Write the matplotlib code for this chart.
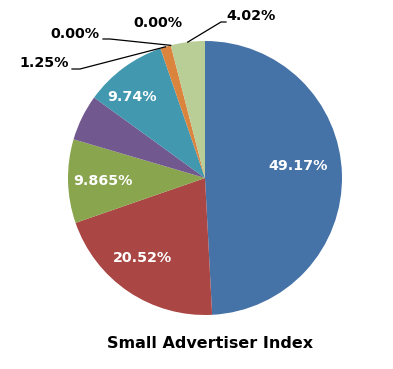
import matplotlib
matplotlib.use('Agg')
import matplotlib.pyplot as plt
import numpy as np

# valores (sentido horario a partir do topo)
categorias = ['A', 'B', 'C', 'D', 'E', 'F', 'G', 'H', 'I']
valores = [49.17, 20.52, 9.865, 5.435, 9.74, 1.25, 0.0, 0.0, 4.02]
rotulos = ['49.17%', '20.52%', '9.865%', '', '9.74%', '1.25%', '0.00%', '0.00%', '4.02%']
cores = ['#4572A7', '#AA4643', '#89A54E', '#71588F', '#4198AF',
         '#DB843D', '#93A9CF', '#D19392', '#B9CD96']

W, H = 393, 369
CX, CY, R = 205, 178, 137


def px(x, y):
    # pixel da imagem -> coordenada do eixo (raio = 1)
    return (x - CX) / R, (CY - y) / R


fig = plt.figure(figsize=(W / 100, H / 100), dpi=100)
ax = fig.add_axes([0, 0, 1, 1])
fatias, _ = ax.pie(valores, colors=cores, startangle=90, counterclock=False,
                   wedgeprops={'linewidth': 0})
ax.set_xlim(-CX / R, (W - CX) / R)
ax.set_ylim((CY - H) / R, CY / R)
ax.axis('off')

fonte = 'DejaVu Sans'
tam = 10.3

# rotulos internos
internos = {0: (298, 166), 1: (143, 258), 2: (103, 181), 4: (132, 97)}
for i, (x, y) in internos.items():
    ax.text(*px(x, y), rotulos[i], color='white', fontsize=tam,
            fontweight='bold', family=fonte, ha='center', va='center')


def borda(i):
    w = fatias[i]
    ang = np.radians((w.theta1 + w.theta2) / 2)
    return np.cos(ang), np.sin(ang)


# rotulos externos com linhas de chamada
externos = {5: ((44, 63), [(72, 69), (80, 69)]),
            6: ((75, 34), [(103, 39), (110, 39)]),
            7: ((158, 23), None),
            8: ((251, 16), [(226, 22), (221, 22)])}
for i, ((x, y), linha) in externos.items():
    ax.text(*px(x, y), rotulos[i], color='black', fontsize=tam,
            fontweight='bold', family=fonte, ha='center', va='center')
    if linha:
        pts = [px(*p) for p in linha] + [borda(i)]
        xs, ys = zip(*pts)
        ax.plot(xs, ys, color='black', lw=0.9)

ax.text(*px(210, 343), 'Small Advertiser Index', color='black', fontsize=11.5,
        fontweight='bold', family=fonte, ha='center', va='center')

fig.savefig('out.png', dpi=100)
